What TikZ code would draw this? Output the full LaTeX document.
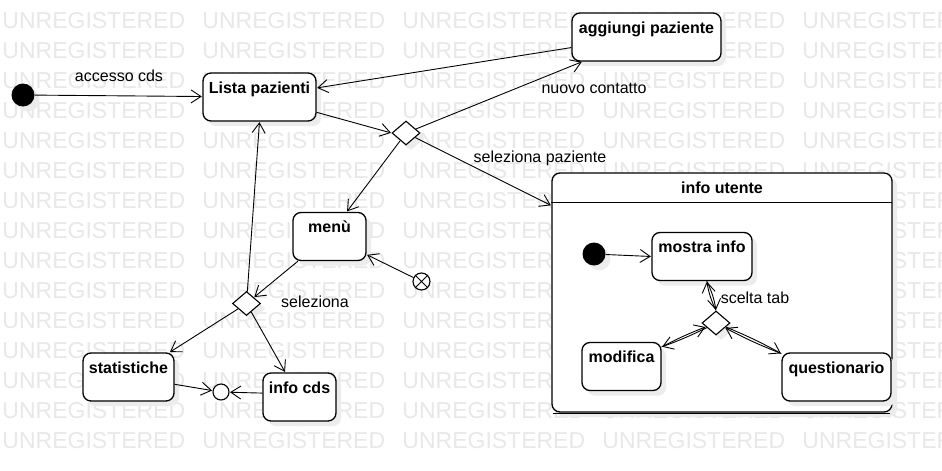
\documentclass[tikz,border=0pt]{standalone}
\usepackage{fontspec}
\setmainfont{Liberation Sans}
\usepackage{xcolor}
\usetikzlibrary{arrows.meta,arrows}
\usetikzlibrary{positioning,shadows,shapes.geometric}

\definecolor{filigrana}{RGB}{232,232,232}
\definecolor{ombra}{RGB}{236,236,236}

\begin{document}
\begin{tikzpicture}[
            x = 1pt, y = -1pt, % one unit = one pixel, y goes down
            > = {Straight Barb[length=10pt,width=13pt]}, % open arrow head
            shorten > = 0.5pt, % don't touch arrow head to node
            auto,
            font = \fontsize{16}{19}\selectfont,
            line width = 0.9pt % line style
        ]

        \tikzstyle{stato}=[
            draw = black,
            line width = 1.3pt,
            fill = white,
            rounded corners = 8pt,
            font = \fontsize{16}{19}\selectfont\bfseries,
            inner sep = 4pt,
            text height = 16pt,
            text depth = 24pt,
            drop shadow = {shadow xshift=5pt, shadow yshift=-5pt, fill=ombra, opacity=1}
        ]
        \tikzstyle{inizio}=[
            circle,
            fill = black,
            minimum size = 23pt,
            inner sep = 0pt,
            drop shadow = {shadow xshift=5pt, shadow yshift=-5pt, fill=ombra, opacity=1}
        ]
        \tikzstyle{scelta}=[
            diamond,
            draw = black,
            line width = 1.1pt,
            fill = white,
            minimum width = 28pt,
            minimum height = 24pt,
            inner sep = 0pt,
            drop shadow = {shadow xshift=5pt, shadow yshift=-5pt, fill=ombra, opacity=1}
        ]
        \tikzstyle{punto}=[
            circle,
            draw = black,
            line width = 1.1pt,
            fill = white,
            minimum size = 16pt,
            inner sep = 0pt
        ]
        \tikzstyle{marchio}=[
            text = filigrana,
            anchor = west,
            inner sep = 0pt,
            font = \fontsize{23}{23}\selectfont
        ]

        \useasboundingbox (0,0) rectangle (942,471);
        \fill[white] (0,0) rectangle (942,471);
        \clip (0,0) rectangle (942,471);

        % Watermark
        \foreach \r in {0,...,14}
            \foreach \c in {0,...,4}
                \node[marchio] (w-\r-\c) [at={(2+200*\c, 20.5+30*\r)}] {UNREGISTERED};

        \node[inizio] (init) [at={(23,95)}] {};
        \node[stato, minimum width=113pt] (lista) [at={(259.5,97)}] {Lista pazienti};
        \node[stato, minimum width=149pt] (aggiungi) [at={(646.5,37)}] {aggiungi paziente};
        \node[scelta] (d1) [at={(406,133)}] {};
        \node[stato, minimum width=73pt] (menu) [at={(329.5,236.5)}] {menù};
        \node[punto, minimum size=17pt] (fine) [at={(421.5,281.5)}] {};
        \node[scelta] (d2) [at={(246.5,303.5)}] {};
        \node[stato, minimum width=91pt] (statistiche) [at={(128.5,377)}] {statistiche};
        \node[stato, minimum width=73pt] (infocds) [at={(299.5,397)}] {info cds};
        \node[punto] (giunzione) [at={(221,392)}] {};
        % Composite state
        \node[stato, minimum width=340pt, text depth=215pt] (utente) [at={(722,292.5)}] {info utente};
        \draw[line width=1.3pt] ([yshift=-30pt]utente.north west) -- ([yshift=-30pt]utente.north east);
        \draw[line width=1.3pt] ([yshift=-1pt]utente.south west) ++(2pt,0) -- ([yshift=-1pt,xshift=-2pt]utente.south east);
        \node[inizio] (init2) [at={(594,254)}] {};
        \node[stato, minimum width=100pt] (mostra) [at={(702,256.5)}] {mostra info};
        \node[scelta] (d3) [at={(716,323)}] {};
        \node[stato, minimum width=79pt] (modifica) [at={(621.5,366.5)}] {modifica};
        \node[stato, minimum width=109pt] (questionario) [at={(836.5,377)}] {questionario};
        \draw (fine.45) -- (fine.225) (fine.135) -- (fine.-45);

        % Labels
        \node (l1) [at={(119,76)}] {accesso cds};
        \node (l2) [at={(594,88)}] {nuovo contatto};
        \node (l3) [at={(540,158)}] {seleziona paziente};
        \node (l4) [at={(315,302)}] {seleziona};
        \node (l5) [at={(755,298)}] {scelta tab};

        \path[->] (init) edge node {} (lista);
        \path[->] (lista.-15) edge node {} (d1.west);
        \path[->] (d1) edge node {} (aggiungi.201);
        \path[->] (aggiungi.188) edge node {} (lista.9);
        \path[->] (d1) edge node {} (utente.153);
        \path[->] (d1) edge node {} (menu.55);
        \path[->] (fine) edge node {} (menu.-26);
        \path[->] (menu.218) edge node {} (d2);
        \path[->] (d2) edge node {} (lista.south);
        \path[->] (d2) edge node {} (statistiche.31);
        \path[->] (d2) edge node {} (infocds.120);
        \path[->] (statistiche.-9) edge node {} (giunzione);
        \path[->] (infocds.174) edge node {} (giunzione);
        \path[->] (init2) edge node {} (mostra.west);
        \path[->] (mostra.-79) edge[bend left=8] node {} (d3.north);
        \path[->] (d3.north) edge[bend left=8] node {} (mostra.-79);
        \path[->] (d3) edge[bend left=3] node {} (modifica.26);
        \path[->] (modifica.26) edge[bend left=3] node {} (d3);
        \path[->] (d3) edge[bend left=3] node {} (questionario.157);
        \path[->] (questionario.157) edge[bend left=3] node {} (d3);

\end{tikzpicture}
\end{document}
